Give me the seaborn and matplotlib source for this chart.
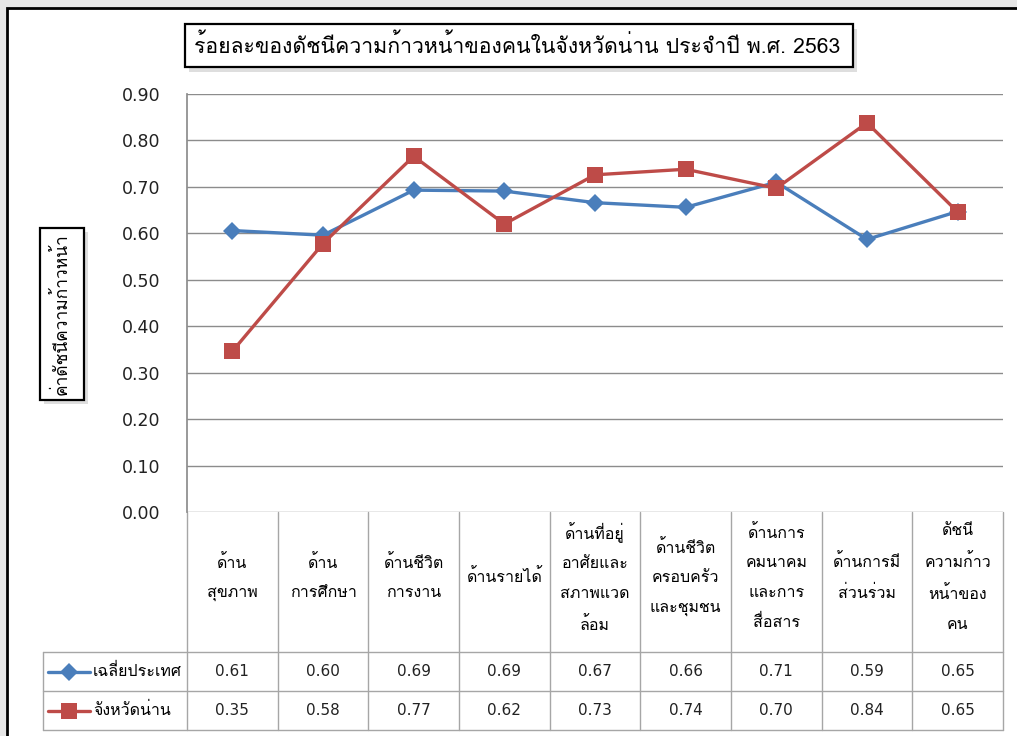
import matplotlib
matplotlib.use("Agg")
import matplotlib.pyplot as plt
from matplotlib import font_manager
from matplotlib.patches import Rectangle
from matplotlib.lines import Line2D
from fontTools.ttLib import TTFont
import numpy as np
import pandas as pd
import seaborn as sns

W, H = 1017, 736

title = "ร้อยละของดัชนีความก้าวหน้าของคนในจังหวัดน่าน ประจำปี พ.ศ. 2563"
y_label = "ค่าดัชนีความก้าวหน้า"
categories = [
    "ด้าน\nสุขภาพ",
    "ด้าน\nการศึกษา",
    "ด้านชีวิต\nการงาน",
    "ด้านรายได้",
    "ด้านที่อยู่\nอาศัยและ\nสภาพแวด\nล้อม",
    "ด้านชีวิต\nครอบครัว\nและชุมชน",
    "ด้านการ\nคมนาคม\nและการ\nสื่อสาร",
    "ด้านการมี\nส่วนร่วม",
    "ดัชนี\nความก้าว\nหน้าของ\nคน",
]
series_names = ["เฉลี่ยประเทศ", "จังหวัดน่าน"]
national = [0.606, 0.596, 0.693, 0.691, 0.666, 0.656, 0.710, 0.587, 0.647]
nan_prov = [0.346, 0.578, 0.766, 0.620, 0.726, 0.738, 0.697, 0.838, 0.646]
y_ticks = [0.0, 0.1, 0.2, 0.3, 0.4, 0.5, 0.6, 0.7, 0.8, 0.9]
colors = {"เฉลี่ยประเทศ": "#4A7EBB", "จังหวัดน่าน": "#BE4B48"}
markers = {"เฉลี่ยประเทศ": "D", "จังหวัดน่าน": "s"}


# find installed fonts that actually have Thai glyphs
def thai_families():
    fams = []
    for f in font_manager.fontManager.ttflist:
        try:
            tt = TTFont(f.fname, fontNumber=0, lazy=True)
            cmap = tt.getBestCmap()
            if cmap and 0x0E01 in cmap and f.name not in fams:
                fams.append(f.name)
        except Exception:
            pass
    return fams


sns.set_theme(style="white")
fams = thai_families()
plt.rcParams["font.family"] = fams + ["DejaVu Sans"]
num_font = ["DejaVu Sans"]

df = pd.DataFrame({
    "pos": np.tile(np.arange(len(categories)) + 0.5, 2),
    "value": national + nan_prov,
    "series": np.repeat(series_names, len(categories)),
})

fig = plt.figure(figsize=(W / 100, H / 100), dpi=100)
fig.patch.set_facecolor("#e6e6e6")

# background axes in pixel coordinates for frame, boxes and data table
bg = fig.add_axes([0, 0, 1, 1], zorder=0)
bg.set_xlim(0, W)
bg.set_ylim(H, 0)
bg.axis("off")
bg.add_patch(Rectangle((7, 8), W + 20, H + 20, facecolor="white", edgecolor="black", lw=2))

# plot area
px0, px1, py0, py1 = 187, 1003, 94, 512
ax = fig.add_axes([px0 / W, 1 - py1 / H, (px1 - px0) / W, (py1 - py0) / H], zorder=2)
ax.set_facecolor("none")
sns.lineplot(data=df, x="pos", y="value", hue="series", style="series",
             palette=colors, markers=markers, dashes=False, legend=False,
             linewidth=2.4, markersize=10, markeredgewidth=0, ax=ax)
for ln, name in zip(ax.lines, series_names):
    ln.set_markersize(9 if name == "เฉลี่ยประเทศ" else 11)
ax.set_xlim(0, len(categories))
ax.set_ylim(0, 0.9)
ax.set_yticks(y_ticks)
ax.set_yticklabels([f"{v:.2f}" for v in y_ticks], family=num_font, fontsize=12.5, color="#222222")
ax.set_xticks([])
ax.set_xlabel("")
ax.set_ylabel("")
ax.yaxis.grid(True, color="#8c8c8c", lw=1)
ax.tick_params(axis="y", length=0, pad=19)
for s in ["top", "right", "bottom"]:
    ax.spines[s].set_visible(False)
ax.spines["left"].set_color("#8c8c8c")

# data table
col_w = (px1 - px0) / len(categories)
row_top, row1, row2, row3 = 512, 652, 691, 730
tcol = "#a6a6a6"
for k in range(len(categories) + 1):
    x = px0 + k * col_w
    bg.plot([x, x], [row_top, row3], color=tcol, lw=1)
for y in [row1, row2, row3]:
    bg.plot([43, px1], [y, y], color=tcol, lw=1)
bg.plot([43, 43], [row1, row3], color=tcol, lw=1)
for k, cat in enumerate(categories):
    cx = px0 + (k + 0.5) * col_w
    bg.text(cx, (row_top + row1) / 2 - 4, cat, ha="center", va="center",
            fontsize=11.5, linespacing=2.15, color="black")
    for vals, (ya, yb) in [(national, (row1, row2)), (nan_prov, (row2, row3))]:
        bg.text(cx, (ya + yb) / 2, f"{vals[k]:.2f}", ha="center", va="center",
                family=num_font, fontsize=11, color="#222222")

# legend keys inside table
for name, (ya, yb) in zip(series_names, [(row1, row2), (row2, row3)]):
    ym = (ya + yb) / 2
    bg.add_line(Line2D([48, 90], [ym, ym], color=colors[name], lw=2.4))
    bg.add_line(Line2D([69], [ym], marker=markers[name], color=colors[name],
                       markersize=9 if markers[name] == "D" else 11, markeredgewidth=0))
    bg.text(93, ym, name, ha="left", va="center", fontsize=11.5, color="black")

# title box with shadow
bg.add_patch(Rectangle((189, 29), 668, 43, facecolor="#c8c8c8", edgecolor="none", alpha=0.6))
bg.add_patch(Rectangle((185, 24), 668, 43, facecolor="white", edgecolor="black", lw=1.6))
bg.text(517, 45, title, ha="center", va="center", fontsize=15.3, color="black")

# y label box with shadow
bg.add_patch(Rectangle((44, 232), 44, 172, facecolor="#c8c8c8", edgecolor="none", alpha=0.6))
bg.add_patch(Rectangle((40, 228), 44, 172, facecolor="white", edgecolor="black", lw=1.6))
bg.text(61, 314, y_label, ha="center", va="center", rotation=90, fontsize=12.5, color="black")

fig.savefig("out.png", dpi=100, facecolor=fig.get_facecolor())
